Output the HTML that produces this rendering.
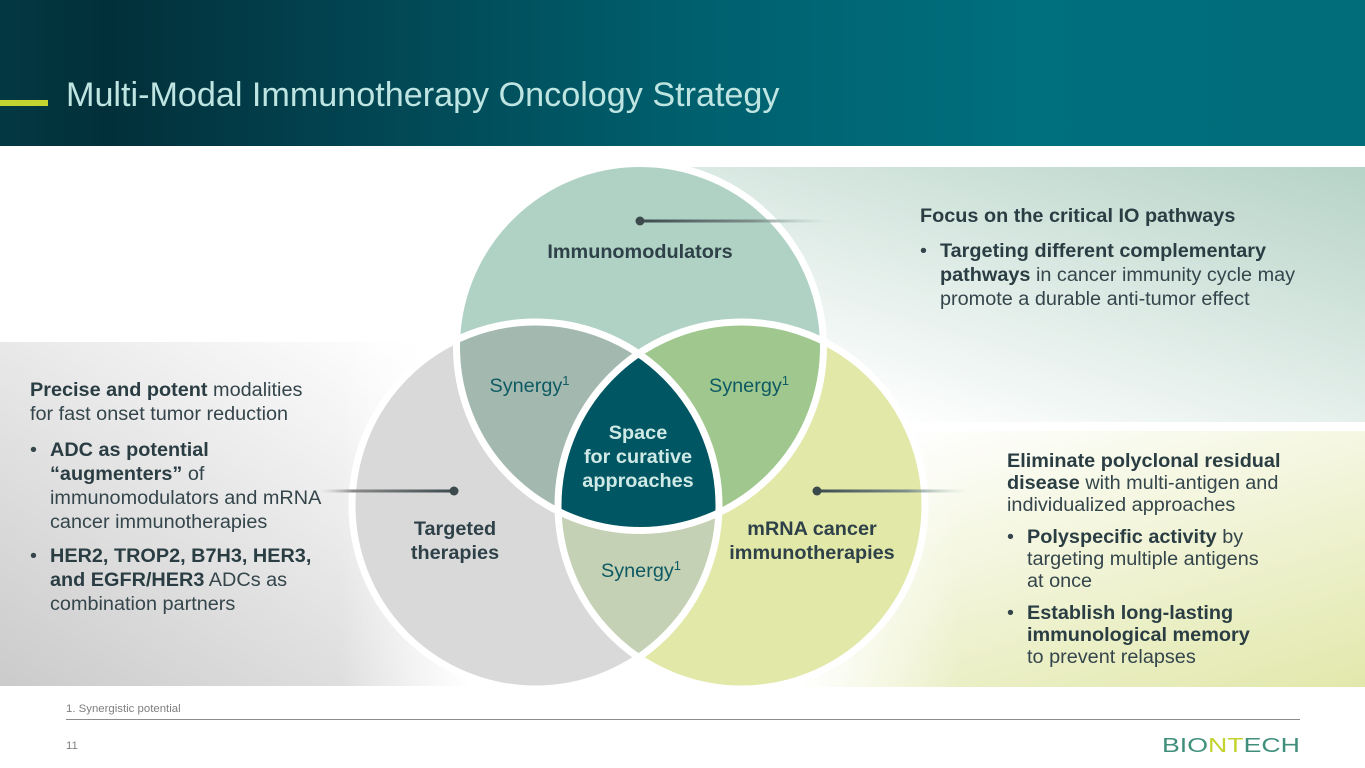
<!DOCTYPE html>
<html><head><meta charset="utf-8"><style>
html,body{margin:0;padding:0;background:#fff;width:1365px;height:768px;overflow:hidden}
svg{display:block;font-family:"Liberation Sans",Arial,sans-serif}
.b{font-size:19.85px;fill:#34454b}
.h{font-weight:bold;fill:#2a3d43}
.l{font-size:19.85px;font-weight:bold;fill:#2f4148;text-anchor:middle}
.s{font-size:19.85px;fill:#0e5a62;text-anchor:middle}
.u{font-size:13px}
</style></head><body>
<svg width="1365" height="768" viewBox="0 0 1365 768" xmlns="http://www.w3.org/2000/svg">
<defs>
<linearGradient id="hd" x1="0" x2="1" y1="0" y2="0">
<stop offset="0" stop-color="#033842"/><stop offset=".08" stop-color="#02303a"/><stop offset=".25" stop-color="#024350"/><stop offset=".5" stop-color="#005f6d"/><stop offset=".75" stop-color="#006f7e"/><stop offset="1" stop-color="#016c7a"/>
</linearGradient>
<linearGradient id="tr" gradientUnits="userSpaceOnUse" x1="1255" y1="534" x2="1365" y2="167">
<stop offset="0" stop-color="#fff"/><stop offset="1" stop-color="#b6d3c7"/>
</linearGradient>
<linearGradient id="br" gradientUnits="userSpaceOnUse" x1="1260" y1="324" x2="1365" y2="686">
<stop offset="0" stop-color="#fff"/><stop offset="1" stop-color="#e2e8ac"/>
</linearGradient>
<linearGradient id="brf" gradientUnits="userSpaceOnUse" x1="800" y1="0" x2="960" y2="0">
<stop offset="0" stop-color="#fff"/><stop offset="1" stop-color="#fff" stop-opacity="0"/>
</linearGradient>
<linearGradient id="lf" gradientUnits="userSpaceOnUse" x1="418" y1="345" x2="112" y2="818">
<stop offset="0" stop-color="#fff"/><stop offset="1" stop-color="#c6c6c6"/>
</linearGradient>
<linearGradient id="lff" gradientUnits="userSpaceOnUse" x1="340" y1="0" x2="470" y2="0">
<stop offset="0" stop-color="#fff" stop-opacity="0"/><stop offset="1" stop-color="#fff"/>
</linearGradient>
<linearGradient id="c1" x1="0" x2="1" y1="0" y2="0"><stop offset="0" stop-color="#3c4a4e"/><stop offset=".6" stop-color="#7f8f8b"/><stop offset="1" stop-color="#b6d3c7" stop-opacity="0"/></linearGradient>
<linearGradient id="c2" x1="1" x2="0" y1="0" y2="0"><stop offset="0" stop-color="#3c4a4e"/><stop offset=".75" stop-color="#8a8a8a"/><stop offset="1" stop-color="#bbb" stop-opacity="0"/></linearGradient>
<clipPath id="cT"><circle cx="640" cy="347" r="183.5"/></clipPath>
<clipPath id="cL"><circle cx="535.5" cy="505.5" r="183.5"/></clipPath>
<clipPath id="cR"><circle cx="741.5" cy="505.5" r="183.5"/></clipPath>
</defs>

<rect x="0" y="0" width="1365" height="146" fill="url(#hd)"/>
<rect x="0" y="100" width="48" height="6" fill="#c3d32f"/>
<text x="66" y="106" font-size="34.15" fill="#bfe5e2">Multi-Modal Immunotherapy Oncology Strategy</text>

<rect x="690" y="167" width="675" height="255" fill="url(#tr)"/>
<rect x="0" y="342" width="470" height="344" fill="url(#lf)"/>
<rect x="340" y="342" width="130" height="344" fill="url(#lff)"/>
<rect x="800" y="431" width="565" height="256" fill="url(#br)"/>
<rect x="800" y="431" width="160" height="256" fill="url(#brf)"/>

<!-- base circles -->
<circle cx="535.5" cy="505.5" r="183.5" fill="#d9d9d9"/>
<circle cx="741.5" cy="505.5" r="183.5" fill="#e2e8a8"/>
<circle cx="640" cy="347" r="183.5" fill="#b0d2c5"/>
<!-- lenses -->
<g clip-path="url(#cL)"><circle cx="741.5" cy="505.5" r="183.5" fill="#c5d1b5"/></g>
<g clip-path="url(#cT)"><circle cx="535.5" cy="505.5" r="183.5" fill="#a3b9b0"/></g>
<g clip-path="url(#cT)"><circle cx="741.5" cy="505.5" r="183.5" fill="#9fc78e"/></g>
<g clip-path="url(#cT)"><g clip-path="url(#cL)"><circle cx="741.5" cy="505.5" r="183.5" fill="#005662"/></g></g>
<!-- outlines -->
<g fill="none" stroke="#fff" stroke-width="7">
<circle cx="535.5" cy="505.5" r="183.5"/>
<circle cx="741.5" cy="505.5" r="183.5"/>
<circle cx="640" cy="347" r="183.5"/>
</g>

<!-- connectors -->
<rect x="640" y="219.5" width="190" height="3" fill="url(#c1)"/>
<circle cx="640" cy="221" r="4.5" fill="#3c4a4e"/>
<rect x="320" y="489.5" width="134" height="3" fill="url(#c2)"/>
<circle cx="454" cy="491" r="4.5" fill="#3c4a4e"/>
<rect x="817" y="489.5" width="150" height="3" fill="url(#c1)"/>
<circle cx="817" cy="491" r="4.5" fill="#3c4a4e"/>

<!-- venn labels -->
<text class="l" x="640" y="258">Immunomodulators</text>
<text class="l" x="455" y="535">Targeted</text>
<text class="l" x="455" y="559">therapies</text>
<text class="l" x="812" y="535">mRNA cancer</text>
<text class="l" x="812" y="559">immunotherapies</text>
<text class="l" x="638" y="439" style="fill:#cfeae6">Space</text>
<text class="l" x="638" y="463" style="fill:#cfeae6">for curative</text>
<text class="l" x="638" y="487" style="fill:#cfeae6">approaches</text>
<text class="s" x="529.5" y="392">Synergy<tspan class="u" dy="-7">1</tspan></text>
<text class="s" x="749" y="392">Synergy<tspan class="u" dy="-7">1</tspan></text>
<text class="s" x="641" y="577">Synergy<tspan class="u" dy="-7">1</tspan></text>

<!-- top right text -->
<text class="b h" x="920" y="222">Focus on the critical IO pathways</text>
<text class="b" x="920" y="257">•</text>
<text class="b h" x="940" y="257">Targeting different complementary</text>
<text class="b" x="940" y="281"><tspan class="h">pathways</tspan> in cancer immunity cycle may</text>
<text class="b" x="940" y="305">promote a durable anti-tumor effect</text>

<!-- left text -->
<text class="b" x="30" y="396"><tspan class="h">Precise and potent</tspan> modalities</text>
<text class="b" x="30" y="420">for fast onset tumor reduction</text>
<text class="b" x="30" y="456">•</text>
<text class="b h" x="50" y="456">ADC as potential</text>
<text class="b" x="50" y="480"><tspan class="h">“augmenters”</tspan> of</text>
<text class="b" x="50" y="504">immunomodulators and mRNA</text>
<text class="b" x="50" y="528">cancer immunotherapies</text>
<text class="b" x="30" y="562">•</text>
<text class="b h" x="50" y="562">HER2, TROP2, B7H3, HER3,</text>
<text class="b" x="50" y="586"><tspan class="h">and EGFR/HER3</tspan> ADCs as</text>
<text class="b" x="50" y="610">combination partners</text>

<!-- bottom right text -->
<text class="b h" x="1007" y="467">Eliminate polyclonal residual</text>
<text class="b" x="1007" y="489"><tspan class="h">disease</tspan> with multi-antigen and</text>
<text class="b" x="1007" y="511">individualized approaches</text>
<text class="b" x="1007" y="543">•</text>
<text class="b" x="1027" y="543"><tspan class="h">Polyspecific activity</tspan> by</text>
<text class="b" x="1027" y="565">targeting multiple antigens</text>
<text class="b" x="1027" y="587">at once</text>
<text class="b" x="1007" y="619">•</text>
<text class="b h" x="1027" y="619">Establish long-lasting</text>
<text class="b h" x="1027" y="641">immunological memory</text>
<text class="b" x="1027" y="663">to prevent relapses</text>

<!-- footer -->
<text x="66" y="712" font-size="11.4" fill="#7f7f7f">1. Synergistic potential</text>
<rect x="66" y="719" width="1234" height="1" fill="#8c8c8c"/>
<text x="66" y="749" font-size="11.4" fill="#7f7f7f">11</text>
<text x="1162" y="752" font-size="20.5" textLength="138" lengthAdjust="spacingAndGlyphs" fill="#3f8f7c">BIO<tspan fill="#c3d32f">NT</tspan>ECH</text>
</svg>
</body></html>
